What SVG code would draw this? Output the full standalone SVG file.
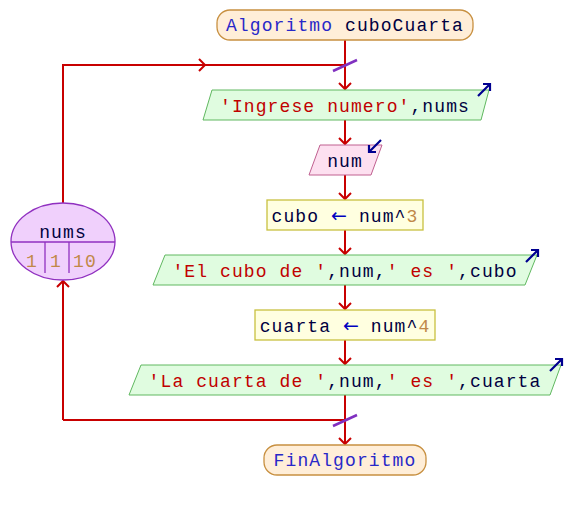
<svg xmlns="http://www.w3.org/2000/svg" width="565" height="510" viewBox="0 0 565 510">
<defs>
<style>
.t{font-family:"Liberation Mono","Courier New",monospace;font-size:18px;letter-spacing:1.1px}
.s{fill:#c00000}.v{fill:#000040}.k{fill:#2828c8}.n{fill:#c08848}
.ar{fill:#0000c0;font-family:"DejaVu Sans",sans-serif;font-size:19px;letter-spacing:0}
.ln{stroke:#c80000;stroke-width:2;fill:none}
.term{fill:#ffeed8;stroke:#c89040;stroke-width:1.3}
.out{fill:#e0fce0;stroke:#60b860;stroke-width:1}
.inp{fill:#fde0f0;stroke:#c06090;stroke-width:1}
.asg{fill:#ffffe0;stroke:#c8c040;stroke-width:1.3}
.io{stroke:#000090;stroke-width:2.2;fill:none}
.sl{stroke:#8030c0;stroke-width:2.5}
</style>
<marker id="ah" markerWidth="14" markerHeight="14" refX="7" refY="7" orient="auto" markerUnits="userSpaceOnUse">
<path d="M1,1 L7,7 L1,13" stroke="#c80000" stroke-width="2" fill="none"/>
</marker>
</defs>
<g id="connectors">
<line class="ln" x1="345" y1="40" x2="345" y2="89" marker-end="url(#ah)"/>
<line class="ln" x1="345" y1="120" x2="345" y2="144" marker-end="url(#ah)"/>
<line class="ln" x1="345" y1="175" x2="345" y2="199" marker-end="url(#ah)"/>
<line class="ln" x1="345" y1="230" x2="345" y2="254" marker-end="url(#ah)"/>
<line class="ln" x1="345" y1="285" x2="345" y2="309" marker-end="url(#ah)"/>
<line class="ln" x1="345" y1="340" x2="345" y2="364" marker-end="url(#ah)"/>
<line class="ln" x1="345" y1="395" x2="345" y2="444" marker-end="url(#ah)"/>
<polyline class="ln" points="63,203 63,65 345,65"/>
<line class="ln" x1="63" y1="65" x2="205" y2="65" marker-end="url(#ah)"/>
<line class="ln" x1="345" y1="420" x2="63" y2="420"/>
<line class="ln" x1="63" y1="420" x2="63" y2="281" marker-end="url(#ah)"/>
<line class="sl" x1="333" y1="71" x2="357" y2="60"/>
<line class="sl" x1="333" y1="426" x2="357" y2="415"/>
</g>
<g id="start">
<rect class="term" x="217" y="10" width="256" height="30" rx="13"/>
<text class="t" x="345" y="31" text-anchor="middle"><tspan class="k">Algoritmo</tspan><tspan class="v"> cuboCuarta</tspan></text>
</g>
<g id="out1">
<polygon class="out" points="212,90 489,90 481,120 203,120"/>
<text class="t" x="345" y="112" text-anchor="middle"><tspan class="s">'Ingrese numero'</tspan><tspan class="v">,nums</tspan></text>
<path class="io" d="M478,96 L490,84 M483,84 L490,84 L490,91"/>
</g>
<g id="in1">
<polygon class="inp" points="320,145 382,145 371,175 309,175"/>
<text class="t" x="345" y="167" text-anchor="middle"><tspan class="v">num</tspan></text>
<path class="io" d="M381,140 L369,152 M369,145 L369,152 L376,152"/>
</g>
<g id="asg1">
<rect class="asg" x="267" y="200" width="156" height="30"/>
<text class="t" x="345" y="222" text-anchor="middle"><tspan class="v">cubo </tspan><tspan class="ar">←</tspan><tspan class="v"> num^</tspan><tspan class="n">3</tspan></text>
</g>
<g id="out2">
<polygon class="out" points="165,255 537,255 525,285 153,285"/>
<text class="t" x="345" y="277" text-anchor="middle"><tspan class="s">'El cubo de '</tspan><tspan class="v">,num,</tspan><tspan class="s">' es '</tspan><tspan class="v">,cubo</tspan></text>
<path class="io" d="M526,262 L538,250 M531,250 L538,250 L538,257"/>
</g>
<g id="asg2">
<rect class="asg" x="255" y="310" width="180" height="30"/>
<text class="t" x="345" y="332" text-anchor="middle"><tspan class="v">cuarta </tspan><tspan class="ar">←</tspan><tspan class="v"> num^</tspan><tspan class="n">4</tspan></text>
</g>
<g id="out3">
<polygon class="out" points="141,365 561,365 550,395 129,395"/>
<text class="t" x="345" y="387" text-anchor="middle"><tspan class="s">'La cuarta de '</tspan><tspan class="v">,num,</tspan><tspan class="s">' es '</tspan><tspan class="v">,cuarta</tspan></text>
<path class="io" d="M550,371 L562,359 M555,359 L562,359 L562,366"/>
</g>
<g id="end">
<rect class="term" x="264" y="445" width="162" height="30" rx="13"/>
<text class="t" x="345" y="466" text-anchor="middle"><tspan class="k">FinAlgoritmo</tspan></text>
</g>
<g id="loop">
<ellipse cx="63" cy="241.5" rx="52" ry="38.5" fill="#f0d0fc" stroke="#9030c0" stroke-width="1.3"/>
<line x1="11" y1="242" x2="115" y2="242" stroke="#9030c0" stroke-width="1.3"/>
<line x1="45" y1="242" x2="45" y2="273" stroke="#9030c0" stroke-width="1.3"/>
<line x1="69" y1="242" x2="69" y2="273" stroke="#9030c0" stroke-width="1.3"/>
<text class="t v" x="63" y="238" text-anchor="middle">nums</text>
<text class="t n" x="32" y="267" text-anchor="middle">1</text>
<text class="t n" x="56" y="267" text-anchor="middle">1</text>
<text class="t n" x="85" y="267" text-anchor="middle">10</text>
</g>
</svg>
